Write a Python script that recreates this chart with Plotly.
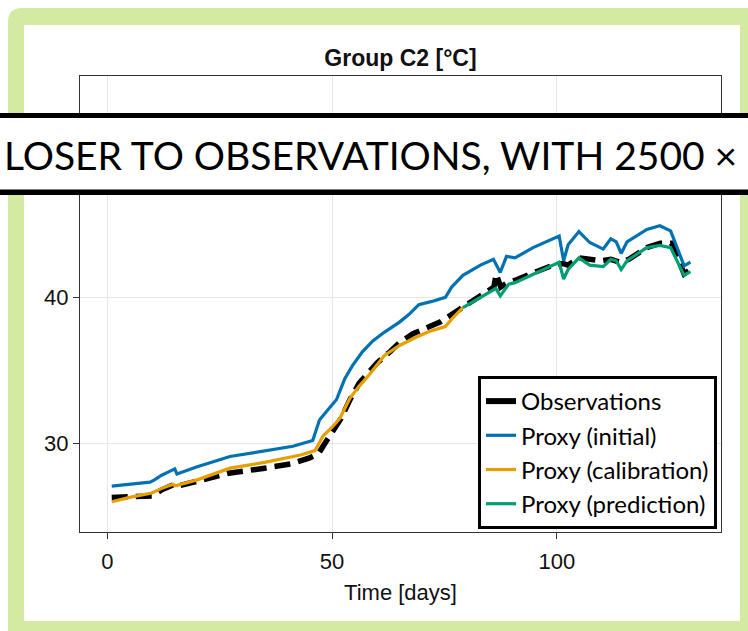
import plotly.graph_objects as go

# ---------------- data ----------------
obs_days = [1, 5, 10, 12, 14, 15, 16, 20, 27, 35, 41, 45, 47, 48, 50, 52, 54, 56, 58, 60,
            63, 65, 68, 72, 74, 76, 78, 80, 83, 86, 86.5, 87.5, 89, 91, 95, 100, 101.5,
            102.5, 105, 107, 110, 112, 114, 116, 120, 123, 125.5, 128.3, 129.7]
obs_vals = [26.3, 26.35, 26.4, 26.8, 27.1, 27.2, 27.1, 27.4, 27.95, 28.3, 28.6, 29.0, 29.3,
            29.8, 30.7, 31.7, 33.0, 34.1, 34.8, 35.5, 36.3, 36.9, 37.5, 38.0, 38.3, 38.7,
            39.1, 39.5, 40.1, 40.7, 41.6, 40.7, 41.0, 41.2, 41.7, 42.3, 42.3, 42.2, 42.7,
            42.6, 42.5, 42.6, 42.4, 42.6, 43.4, 43.7, 43.7, 41.6, 41.9]

init_days = [1, 5, 9.5, 10.5, 12, 14, 15, 15.5, 20, 27.3, 35, 41.3, 45.7, 47.2, 48.8, 51,
             52.8, 54.5, 56.7, 59, 61.6, 63, 65, 67, 69.3, 72, 75.2, 76.6, 79.1, 83, 85.9,
             87.4, 88.8, 90.7, 94.7, 100.5, 101.5, 102.5, 104.9, 107.3, 110.3, 112, 113.2,
             114.3, 115.6, 120, 122.9, 125.3, 128.3, 129.7]
init_vals = [27.07, 27.2, 27.34, 27.5, 27.8, 28.1, 28.25, 27.9, 28.4, 29.1, 29.5, 29.8, 30.2,
             31.6, 32.2, 33.0, 34.4, 35.3, 36.25, 37.0, 37.6, 37.9, 38.3, 38.8, 39.5, 39.7,
             40.0, 40.7, 41.5, 42.2, 42.6, 41.7, 42.8, 42.7, 43.4, 44.2, 42.5, 43.6, 44.5,
             43.75, 43.3, 44.0, 43.8, 43.0, 43.8, 44.65, 44.9, 44.55, 42.15, 42.4]

cal_days = [1, 5, 9.9, 12, 14.6, 15.2, 20, 27.3, 35, 43, 46.2, 48, 50, 51.7, 54, 56, 58,
            61.6, 65, 68.9, 72, 75.2, 76.6, 79.1]
cal_vals = [26.0, 26.3, 26.6, 26.9, 27.2, 27.1, 27.5, 28.3, 28.7, 29.2, 29.5, 30.5, 31.1,
            31.7, 33.1, 33.9, 34.6, 36.0, 36.7, 37.3, 37.7, 38.0, 38.5, 39.3]

pred_days = [79.1, 83, 86.4, 87.4, 89.3, 90.7, 95.6, 100.5, 101.5, 102.5, 104.9, 107.3,
             110.3, 112, 113.2, 114.3, 115.6, 120, 122.9, 125.3, 128.3, 129.7]
pred_vals = [39.3, 40.0, 40.6, 40.1, 40.9, 41.0, 41.7, 42.4, 41.25, 41.9, 42.7, 42.2, 42.1,
             42.6, 42.5, 41.9, 42.5, 43.4, 43.55, 43.4, 41.5, 41.75]

x_ticks = [0, 50, 100]
y_ticks = [30, 40]          # the 50 tick lies under the banner
series_names = ["Observations", "Proxy (initial)", "Proxy (calibration)", "Proxy (prediction)"]
title_text = "Group C2 [°C]"
x_title = "Time [days]"
banner_text = "LOSER TO OBSERVATIONS, WITH 2500 ×"

BLUE, ORANGE, GREEN, BLACK = "#0072B2", "#E69F00", "#009E73", "#000000"
FRAME = "#D4EAA2"

# ---------------- layout geometry ----------------
W, H = 748, 631
L, R, T, B = 80, 721, 76, 532
PW, PH = R - L, B - T


def px(p):
    return (p - L) / PW


def py(p):
    return (B - p) / PH


fig = go.Figure()

# data traces (no legend)
fig.add_trace(go.Scatter(x=obs_days, y=obs_vals, mode="lines", showlegend=False,
                         line=dict(color=BLACK, width=5.5, dash="16px,8px")))
fig.add_trace(go.Scatter(x=init_days, y=init_vals, mode="lines", showlegend=False,
                         line=dict(color=BLUE, width=3.2)))
fig.add_trace(go.Scatter(x=cal_days, y=cal_vals, mode="lines", showlegend=False,
                         line=dict(color=ORANGE, width=3.2)))
fig.add_trace(go.Scatter(x=pred_days, y=pred_vals, mode="lines", showlegend=False,
                         line=dict(color=GREEN, width=3.2)))

# legend entries
for name, col, w in zip(series_names, [BLACK, BLUE, ORANGE, GREEN], [6, 3.2, 3.2, 3.2]):
    fig.add_trace(go.Scatter(x=[None], y=[None], mode="lines", name=name,
                             line=dict(color=col, width=w)))

# frame (rounded green border) + inner white
r = 14
x0, y0, x1, y1 = 8, 8, 770, 650
path = (f"M{px(x0)},{py(y0 + r)} Q{px(x0)},{py(y0)} {px(x0 + r)},{py(y0)} "
        f"L{px(x1)},{py(y0)} L{px(x1)},{py(y1)} L{px(x0)},{py(y1)} Z")
shapes = [
    dict(type="path", path=path, xref="paper", yref="paper", fillcolor=FRAME,
         line=dict(width=0), layer="below"),
    dict(type="rect", xref="paper", yref="paper", x0=px(24), x1=px(740), y0=py(25), y1=py(621),
         fillcolor="white", line=dict(width=0), layer="below"),
    # banner
    dict(type="rect", xref="paper", yref="paper", x0=px(-10), x1=px(760), y0=py(113), y1=py(195),
         fillcolor="white", line=dict(width=0), layer="above"),
    dict(type="rect", xref="paper", yref="paper", x0=px(-10), x1=px(760), y0=py(113), y1=py(118),
         fillcolor="black", line=dict(width=0), layer="above"),
    dict(type="rect", xref="paper", yref="paper", x0=px(-10), x1=px(760), y0=py(189.5), y1=py(195),
         fillcolor="black", line=dict(width=0), layer="above"),
]

annotations = [
    dict(text=banner_text, xref="paper", yref="paper", x=px(738), y=py(155),
         xanchor="right", yanchor="middle", showarrow=False, borderpad=0,
         font=dict(family="Lato", size=39, color="black")),
]

axis_common = dict(showline=True, mirror=True, linecolor="#333333", linewidth=1.2,
                   showgrid=True, gridcolor="#e6e6e6", gridwidth=1, zeroline=False,
                   ticks="outside", ticklen=6, tickcolor="#333333", tickwidth=1.2,
                   tickfont=dict(family="Liberation Sans", size=22, color="#111111"))

fig.update_layout(
    width=W, height=H,
    margin=dict(l=L, r=W - R, t=T, b=H - B, pad=0),
    paper_bgcolor="white", plot_bgcolor="white",
    shapes=shapes, annotations=annotations,
    title=dict(text=f"<b>{title_text}</b>", x=0.5, xref="paper", xanchor="center",
               y=1 - 58 / H, yref="container", yanchor="middle",
               font=dict(family="Liberation Sans", size=23, color="#111111")),
    xaxis=dict(range=[-6.06, 136.5], tickvals=x_ticks, ticklabelstandoff=3,
               title=dict(text=x_title, standoff=12,
                          font=dict(family="Liberation Sans", size=22, color="#111111")),
               **axis_common),
    yaxis=dict(range=[23.93, 55.15], tickvals=y_ticks, **axis_common),
    legend=dict(x=px(717), y=py(529), xanchor="right", yanchor="bottom",
                bgcolor="white", bordercolor="black", borderwidth=3,
                font=dict(family="Lato", size=24, color="black"),
                itemwidth=30, tracegroupgap=0),
)

fig.write_html("out.html")
